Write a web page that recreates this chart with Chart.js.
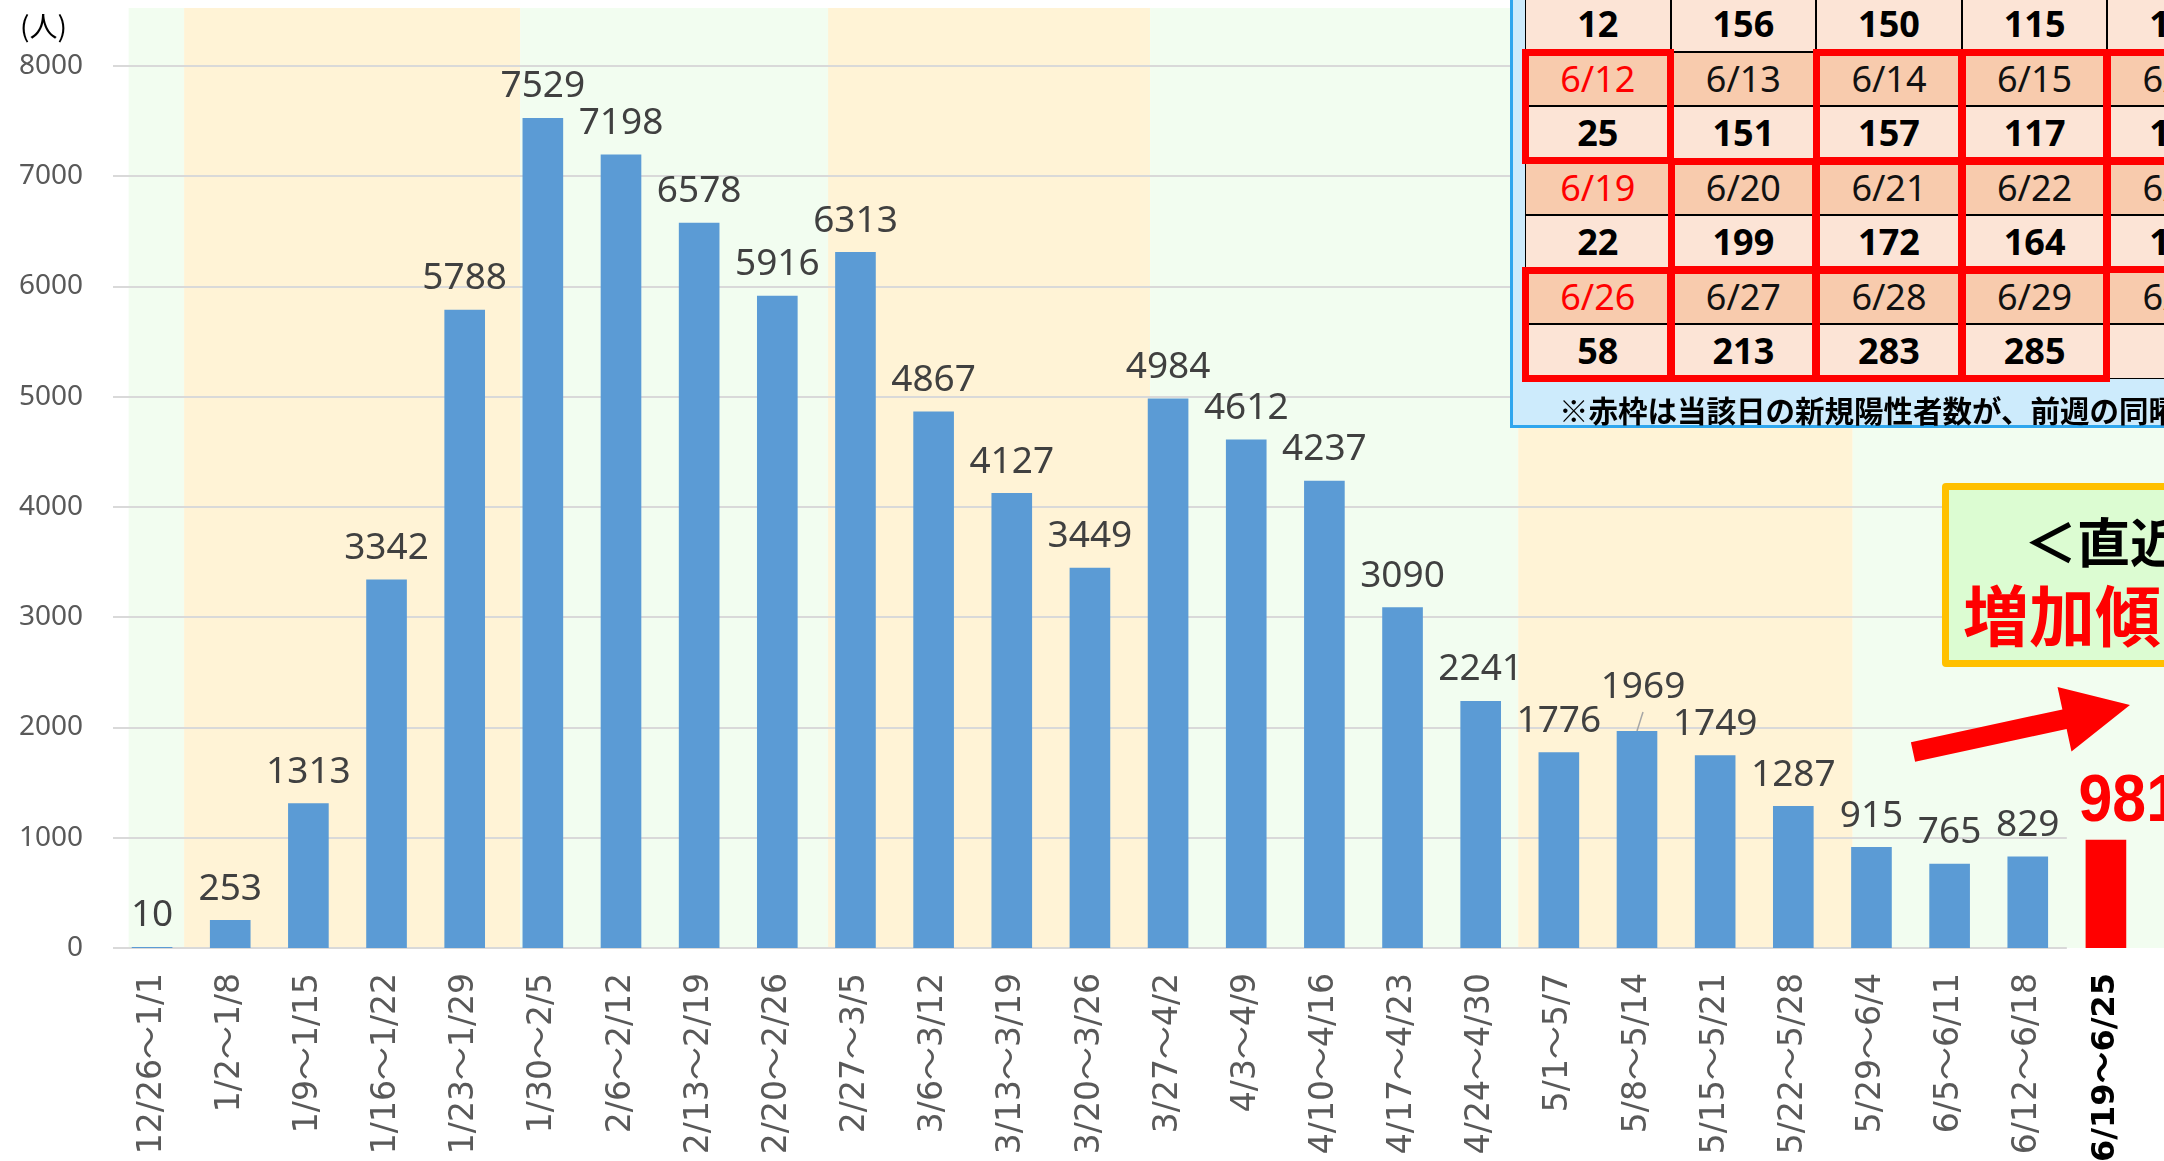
<!DOCTYPE html>
<html>
<head>
<meta charset="utf-8">
<script src="https://cdn.jsdelivr.net/npm/chart.js@4/dist/chart.umd.min.js"></script>
<style>
  html, body { margin: 0; padding: 0; background: #fff; overflow: hidden; }
  #wrap { position: relative; width: 2164px; height: 1161px; overflow: hidden; }
  #c { position: absolute; left: 0; top: 0; }
  .abs { position: absolute; box-sizing: border-box; }
  #unit { left: 20px; top: 5px; font: 28px "Noto Sans CJK JP"; color: #000; }
  #tblBox { left: 1510px; top: -20px; width: 800px; height: 448px; background: #cdebfc; border: 3px solid #2fa6ee; }
  .cell { border: 1px solid #000; text-align: center; color: #111; }
  .frame { border: 7px solid #ff0000; }
  #note { left: 1559px; top: 387px; font: bold 29.5px "Noto Sans CJK JP"; color: #000; white-space: nowrap; line-height: 44px; }
  #trend { left: 1942px; top: 483px; width: 500px; height: 184px; background: #dcfcd2; border: 7px solid #ffc000; border-radius: 4px; }
  #trend1 { left: 2024px; top: 506px; font: bold 53px "Noto Sans CJK JP"; color: #000; white-space: nowrap; line-height: 68px; }
  #trend2 { left: 1963px; top: 572px; font: bold 66px "Noto Sans CJK JP"; color: #ff0000; white-space: nowrap; line-height: 80px; }
  #arrow { left: 0; top: 0; }
</style>
</head>
<body>
<div id="wrap">
  <canvas id="c" width="2164" height="1161"></canvas>
  <div class="abs" id="unit">(人)</div>
  <div class="abs" id="tblBox"></div>
  <div id="tbl"></div>
  <div class="abs" id="note">※赤枠は当該日の新規陽性者数が、前週の同曜日を上回ったもの</div>
  <div class="abs" id="trend"></div>
  <div class="abs" id="trend1">＜直近の傾向＞</div>
  <div class="abs" id="trend2">増加傾向</div>
  <svg class="abs" id="arrow" width="2164" height="1161">
    <g transform="translate(1913,752) rotate(-12.2)">
      <polygon points="0,-10 155,-10 155,-33 222,0 155,33 155,10 0,10" fill="#ff0000"/>
    </g>
  </svg>
</div>
<script>
// weekly new positive cases
const weekLabels = [
  "12/26～1/1", "1/2～1/8", "1/9～1/15", "1/16～1/22", "1/23～1/29",
  "1/30～2/5", "2/6～2/12", "2/13～2/19", "2/20～2/26", "2/27～3/5",
  "3/6～3/12", "3/13～3/19", "3/20～3/26", "3/27～4/2", "4/3～4/9",
  "4/10～4/16", "4/17～4/23", "4/24～4/30", "5/1～5/7", "5/8～5/14",
  "5/15～5/21", "5/22～5/28", "5/29～6/4", "6/5～6/11", "6/12～6/18",
  "6/19～6/25"
];
const weeklyCases = [
  10, 253, 1313, 3342, 5788, 7529, 7198, 6578, 5916, 6313,
  4867, 4127, 3449, 4984, 4612, 4237, 3090, 2241, 1776, 1969,
  1749, 1287, 915, 765, 829, 981
];
const yMax = 8000;
const yStep = 1000;

// daily table (Sun..Thu of each week)
const dayDates = [
  ["6/5", "6/6", "6/7", "6/8", "6/9"],
  ["6/12", "6/13", "6/14", "6/15", "6/16"],
  ["6/19", "6/20", "6/21", "6/22", "6/23"],
  ["6/26", "6/27", "6/28", "6/29", "6/30"]
];
const dayCases = [
  [12, 156, 150, 115, 128],
  [25, 151, 157, 117, 139],
  [22, 199, 172, 164, 171],
  [58, 213, 283, 285, null]
];

const last = weeklyCases.length - 1;

// period shading behind the chart, in category units
const bandEdges = [-0.3, 0.41, 4.71, 8.65, 12.77, 17.48, 21.76, 27];
// labels that were dragged off their bar (with a leader line)
const labelNudge = { 19: { dx: 6, dy: -12 } };

const backdrop = {
  id: 'backdrop',
  beforeDraw(chart) {
    const { ctx, chartArea, scales: { x, y } } = chart;
    const step = x.getPixelForValue(1) - x.getPixelForValue(0);
    const at = v => x.getPixelForValue(0) + v * step;
    ctx.save();
    for (let i = 0; i < bandEdges.length - 1; i++) {
      ctx.fillStyle = i % 2 ? '#fff3d6' : '#f2fdf0';
      const l = at(bandEdges[i]);
      const r = Math.min(at(bandEdges[i + 1]), chart.width);
      ctx.fillRect(l, 8, r - l, chartArea.bottom - 8);
    }
    const gridEnd = at(last - 0.5);
    ctx.strokeStyle = '#d9d9d9';
    ctx.lineWidth = 2;
    y.ticks.forEach(t => {
      const py = Math.round(y.getPixelForValue(t.value));
      ctx.beginPath();
      ctx.moveTo(chartArea.left, py);
      ctx.lineTo(gridEnd, py);
      ctx.stroke();
    });
    ctx.restore();
  }
};

const barLabels = {
  id: 'barLabels',
  afterDatasetsDraw(chart) {
    const ctx = chart.ctx;
    const meta = chart.getDatasetMeta(0);
    ctx.save();
    ctx.textBaseline = 'middle';
    meta.data.forEach((bar, i) => {
      if (i === last) {
        ctx.save();
        ctx.translate(bar.x - bar.width / 2 - 7, bar.y - 37);
        ctx.scale(0.92, 1);
        ctx.font = 'bold 66px "Liberation Sans"';
        ctx.fillStyle = '#ff0000';
        ctx.textAlign = 'left';
        ctx.fillText(String(weeklyCases[i]), 0, 0);
        ctx.restore();
      } else {
        const n = labelNudge[i] || { dx: 0, dy: 0 };
        const lx = bar.x + n.dx, ly = bar.y - 31 + n.dy;
        if (labelNudge[i]) {
          ctx.strokeStyle = '#a6a6a6';
          ctx.lineWidth = 1.5;
          ctx.beginPath();
          ctx.moveTo(bar.x, bar.y);
          ctx.lineTo(lx, ly + 24);
          ctx.stroke();
        }
        ctx.font = '37px "Noto Sans"';
        ctx.fillStyle = '#404040';
        ctx.textAlign = 'center';
        ctx.fillText(String(weeklyCases[i]), lx, ly);
      }
    });
    ctx.restore();
  }
};

new Chart(document.getElementById('c'), {
  type: 'bar',
  data: {
    labels: weekLabels,
    datasets: [{
      data: weeklyCases,
      backgroundColor: weeklyCases.map((v, i) => i === last ? '#ff0000' : '#5b9bd5'),
      barPercentage: 0.52,
      categoryPercentage: 1
    }]
  },
  options: {
    responsive: false,
    animation: false,
    layout: { padding: { top: 66, right: 19, left: 0, bottom: 0 } },
    plugins: { legend: { display: false }, tooltip: { enabled: false } },
    scales: {
      x: {
        grid: { display: false, drawTicks: false },
        border: { display: false },
        ticks: {
          autoSkip: false,
          minRotation: 90,
          maxRotation: 90,
          padding: 25,
          color: c => c.index === last ? '#000' : '#595959',
          font: c => ({
            family: '"DejaVu Sans", "Noto Sans CJK JP"',
            size: c.index === last ? 32 : 33,
            weight: c.index === last ? 'bold' : 'normal'
          })
        },
        afterFit: s => { s.height = 213; s.paddingLeft = 0; s.paddingRight = 0; }
      },
      y: {
        min: 0,
        max: yMax,
        grid: { display: false, drawTicks: false },
        border: { display: false },
        ticks: {
          stepSize: yStep,
          padding: 30,
          color: '#595959',
          font: { family: '"Noto Sans"', size: 28 },
          callback: v => String(v)
        },
        afterFit: s => { s.width = 113; }
      }
    }
  },
  plugins: [backdrop, barLabels]
});

// daily table overlay
const tbl = document.getElementById('tbl');
const x0 = 1525, y0 = -57.5, cw = 145.6, rh = 54.5;
function box(cls, l, t, w, h, html, style) {
  const d = document.createElement('div');
  d.className = 'abs ' + cls;
  d.style.left = l + 'px';
  d.style.top = t + 'px';
  d.style.width = w + 'px';
  d.style.height = h + 'px';
  if (style) Object.assign(d.style, style);
  if (html !== undefined) d.innerHTML = html;
  tbl.appendChild(d);
  return d;
}
dayDates.forEach((row, w) => {
  row.forEach((date, c) => {
    const l = x0 + c * cw;
    const t = y0 + w * 2 * rh;
    box('cell', l, t, cw, rh, date, {
      background: '#f8cbad',
      font: '36px "Noto Sans"',
      lineHeight: (rh - 2) + 'px',
      color: c === 0 ? '#ff0000' : '#111'
    });
    const v = dayCases[w][c];
    box('cell', l, t + rh, cw, rh, v === null ? '' : String(v), {
      background: '#fce4d6',
      font: 'bold 36px "Noto Sans"',
      lineHeight: (rh - 2) + 'px',
      color: '#000'
    });
  });
});
dayDates.forEach((row, w) => {
  if (w === 0) return;
  row.forEach((date, c) => {
    const v = dayCases[w][c];
    if (v !== null && v > dayCases[w - 1][c]) {
      box('frame', x0 + c * cw - 3, y0 + w * 2 * rh - 3, cw + 6, 2 * rh + 6);
    }
  });
});
</script>
</body>
</html>
